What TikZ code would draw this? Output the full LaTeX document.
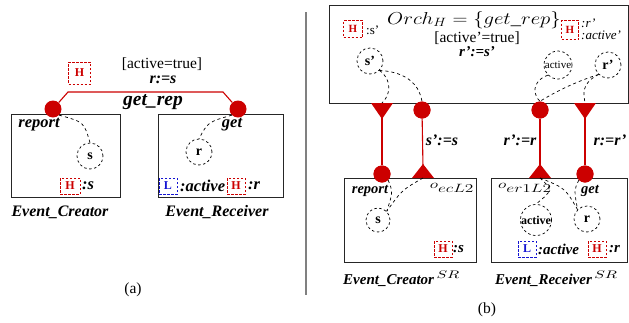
\documentclass[tikz,border=0pt]{standalone}
\usepackage{fontspec}
\setmainfont{Liberation Serif}
\definecolor{dred}{RGB}{204,0,0}
\definecolor{lblue}{RGB}{20,20,210}
\tikzset{
  box/.style={draw=black!85, line width=1.3pt, inner sep=0pt, anchor=north west},
  port/.style={circle, fill=dred, inner sep=0pt, minimum size=17pt},
  redline/.style={draw=dred, line width=1.1pt},
  dcirc/.style={circle, draw, dash pattern=on 2.5pt off 2.5pt, line width=0.7pt, inner sep=0pt, font=\fontsize{14}{14}\selectfont\bfseries},
  dcon/.style={draw, dash pattern=on 3pt off 3pt, line width=0.7pt},
  hbox/.style={draw=dred, dash pattern=on 2.5pt off 1.5pt, line width=1pt, text=dred, font=\fontsize{12}{12}\selectfont\bfseries, inner sep=0pt},
  lbox/.style={draw=lblue, dash pattern=on 2.5pt off 1.5pt, line width=1pt, text=lblue, font=\fontsize{12}{12}\selectfont\bfseries, inner sep=0pt},
  lab/.style={font=\fontsize{16.5}{18}\selectfont\bfseries\itshape, inner sep=0pt},
  labs/.style={font=\fontsize{15}{17}\selectfont\bfseries\itshape, inner sep=0pt},
  txt/.style={font=\fontsize{15.5}{17}\selectfont, inner sep=0pt},
  small/.style={font=\fontsize{13}{13}\selectfont, inner sep=0pt, anchor=west},
}
\newcommand{\wide}[1]{\scalebox{1.45}[1]{#1}}
\begin{document}
\begin{tikzpicture}[x=1pt, y=-1pt]
\useasboundingbox (0,0) rectangle (629,322);
% ---------------- (a) ----------------
\node[box, minimum width=109pt, minimum height=83pt] (ecA) at (11,114) {};
\node[box, minimum width=125pt, minimum height=83pt] (erA) at (158,114) {};
\coordinate (k1) at (68,92);
\coordinate (k2) at (223,92);
\node[port] (repA) at (53,109) {};
\node[port] (getA) at (238,109) {};
\draw[redline] (repA) -- (k1) -- (k2) -- (getA);
\node[hbox, minimum width=22pt, minimum height=22pt] (hA) at (79.5,73) {H};
\node[txt] (guardA) at (162,64) {[active=true]};
\node[lab, font=\fontsize{16}{17}\selectfont\bfseries\itshape] (asgA) at (163,80) {r:=s};
\node[font=\fontsize{19.5}{20}\selectfont\bfseries\itshape, inner sep=0pt] (opA) at (153,102) {get\_rep};
\node[lab] (repLA) at (39,125) {report};
\node[lab] (getLA) at (232,125) {get};
\node[dcirc, minimum size=26pt] (sA) at (90,156) {s};
\node[dcirc, minimum size=26pt] (rA) at (199,152) {r};
\draw[dcon] (repA.south east) .. controls (84,122) .. (sA.north);
\draw[dcon] (getA.south west) .. controls (208,122) .. (rA.north);
\node[hbox, minimum width=20pt, minimum height=16pt] (hsA) at (70,186) {H};
\node[lab, anchor=west] (hsAt) at (82,186) {:s};
\node[lbox, minimum width=18pt, minimum height=16pt] (lA) at (168,186) {L};
\node[lab, anchor=west] (lAt) at (180,186) {:active};
\node[hbox, minimum width=18pt, minimum height=16pt] (hrA) at (236,186) {H};
\node[lab, anchor=west] (hrAt) at (248,186) {:r};
\node[font=\fontsize{16}{18}\selectfont\bfseries\itshape, inner sep=0pt] (ecAl) at (60,212) {Event\_Creator};
\node[font=\fontsize{16}{18}\selectfont\bfseries\itshape, inner sep=0pt] (erAl) at (217,212) {Event\_Receiver};
\node[txt] (capA) at (133,290) {(a)};
% separator
\coordinate (sep1) at (306,12);
\coordinate (sep2) at (306,295);
\draw[gray, line width=1.2pt] (sep1) -- (sep2);
% ---------------- (b) ----------------
\node[box, minimum width=299pt, minimum height=98pt] (orch) at (329,5) {};
\node[box, minimum width=132pt, minimum height=84pt] (ecB) at (344,178) {};
\node[box, minimum width=136pt, minimum height=84pt] (erB) at (491,178) {};
\coordinate (t1) at (382,117);
\coordinate (t1top) at (382,103);
\coordinate (t2) at (585,117);
\coordinate (t2top) at (585,103);
\coordinate (t3) at (423,167);
\coordinate (t3base) at (423,178);
\coordinate (t4) at (540,167);
\coordinate (t4base) at (540,178);
\node[port] (c1) at (422,110) {};
\node[port] (c2) at (540,110) {};
\node[port] (c3) at (382,174) {};
\node[port] (c4) at (585,174) {};
\draw[redline] (t1) -- (c3);
\draw[redline] (c1) -- (t3);
\draw[redline] (c2) -- (t4);
\draw[redline] (t2) -- (c4);
\fill[dred] (371,103) -- (393,103) -- (382,119) -- cycle;
\fill[dred] (574,103) -- (596,103) -- (585,119) -- cycle;
\fill[dred] (412,178) -- (434,178) -- (423,164) -- cycle;
\fill[dred] (529,178) -- (551,178) -- (540,164) -- cycle;
\node[port] at (c1) {};
\node[port] at (c2) {};
\node[port] at (c3) {};
\node[port] at (c4) {};
% top box content
\node[font=\fontsize{17}{20}\selectfont, inner sep=0pt] (orchT) at (474,20) {\scalebox{1.2}[1]{$Orch_H = \{get\_rep\}$}};
\node[hbox, minimum width=19pt, minimum height=17pt, font=\fontsize{11}{11}\selectfont\bfseries] (hsB) at (353,29) {H};
\node[small] (hsBt) at (366,30) {:s'};
\node[txt] (guardB) at (477,38) {[active'=true]};
\node[labs] (asgB) at (477,52) {r':=s'};
\node[hbox, minimum width=17pt, minimum height=19pt, font=\fontsize{11}{11}\selectfont\bfseries] (hrB) at (570,30) {H};
\node[small, font=\fontsize{13}{13}\selectfont\itshape] (hrBt1) at (581,23) {:r'};
\node[small, font=\fontsize{13}{13}\selectfont\itshape] (hrBt2) at (581,35) {:active'};
\node[dcirc, minimum size=26pt] (spB) at (370,61) {s'};
\node[dcirc, minimum size=28pt, font=\fontsize{11}{11}\selectfont] (apB) at (558,65) {active};
\node[dcirc, minimum size=26pt] (rpB) at (608,65) {r'};
\draw[dcon] (spB.south east) .. controls (393,80) and (390,96) .. (t1top);
\draw[dcon] (spB.south east) .. controls (410,72) and (420,88) .. (c1.north);
\draw[dcon] (apB.south west) .. controls (530,82) and (534,96) .. (c2.north);
\draw[dcon] (rpB.south west) .. controls (575,82) and (555,92) .. (c2.north);
\draw[dcon] (rpB.south west) .. controls (580,84) and (584,95) .. (t2top);
% connector labels
\node[labs, font=\fontsize{16}{18}\selectfont\bfseries\itshape] (l1) at (442,140) {s':=s};
\node[labs, font=\fontsize{16}{18}\selectfont\bfseries\itshape] (l2) at (520,140) {r':=r};
\node[labs, font=\fontsize{16}{18}\selectfont\bfseries\itshape] (l3) at (610,140) {r:=r'};
% lower boxes content
\node[labs, font=\fontsize{14.5}{16}\selectfont\bfseries\itshape] (repB) at (370,191) {report};
\node[font=\fontsize{12}{14}\selectfont, inner sep=0pt] (oec) at (452,188) {\wide{$o_{\textstyle ecL2}$}};
\node[font=\fontsize{12}{14}\selectfont, inner sep=0pt] (oer) at (525,188) {\wide{$o_{\textstyle er1L2}$}};
\node[labs, font=\fontsize{14.5}{16}\selectfont\bfseries\itshape] (getB) at (590,191) {get};
\node[dcirc, minimum size=24pt] (sB) at (378,220) {s};
\node[dcirc, minimum size=30pt, font=\fontsize{12}{12}\selectfont\bfseries] (aB) at (536,220) {active};
\node[dcirc, minimum size=26pt] (rB) at (587,219) {r};
\draw[dcon] (c3.south east) .. controls (393,192) .. (sB.north east);
\draw[dcon] (t3base) .. controls (402,190) .. (sB.north east);
\draw[dcon] (t4base) .. controls (553,190) .. (aB.north);
\draw[dcon] (t4base) .. controls (565,188) .. (rB.north west);
\draw[dcon] (c4.south west) .. controls (574,190) .. (rB.north west);
\node[hbox, minimum width=18pt, minimum height=16pt] (hsB2) at (443,249) {H};
\node[labs, anchor=west] (hsB2t) at (453,249) {:s};
\node[lbox, minimum width=18pt, minimum height=16pt] (lB) at (527,249) {L};
\node[labs, anchor=west] (lBt) at (538,249) {:active};
\node[hbox, minimum width=18pt, minimum height=16pt] (hrB2) at (597,249) {H};
\node[labs, anchor=west] (hrB2t) at (609,249) {:r};
\node[font=\fontsize{15}{17}\selectfont, inner sep=0pt, anchor=base west] (ecBl) at (343,284) {\bfseries\itshape Event\_Creator\,\wide{$^{SR}$}};
\node[font=\fontsize{15}{17}\selectfont, inner sep=0pt, anchor=base west] (erBl) at (495,284) {\bfseries\itshape Event\_Receiver\,\wide{$^{SR}$}};
\node[txt] (capB) at (487,310) {(b)};
\end{tikzpicture}
\end{document}
